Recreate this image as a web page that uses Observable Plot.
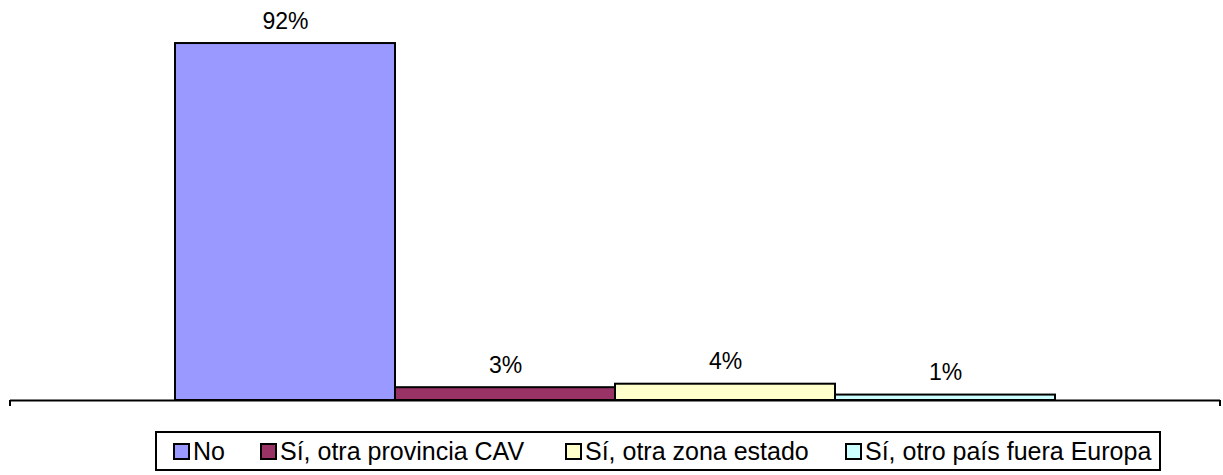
<!DOCTYPE html>
<html>
<head>
<meta charset="utf-8">
<script src="https://cdn.jsdelivr.net/npm/d3@7"></script>
<script src="https://cdn.jsdelivr.net/npm/@observablehq/plot@0.6"></script>
<style>
  body { margin: 0; background: #fff; font-family: "Liberation Sans", Arial, sans-serif; }
  #wrap { position: relative; width: 1223px; height: 475px; }
  #legend { position: absolute; left: 155px; top: 431px; width: 1006px; height: 40px;
    border: 2px solid #000; box-sizing: border-box;
    font-size: 25px; color: #000; }
  .item { display: flex; align-items: center; position: absolute; top: 0; height: 36px; line-height: 1; }
  .sw { width: 13px; height: 13px; border: 2px solid #000; margin-right: 3px; }
</style>
</head>
<body>
<div id="wrap">
  <div id="chart"></div>
  <div id="legend"></div>
</div>
<script>
const categories = ["No", "Sí, otra provincia CAV", "Sí, otra zona estado", "Sí, otro país fuera Europa"];
const values = [92, 3.3, 4.2, 1.4];
const labels = ["92%", "3%", "4%", "1%"];
const colors = ["#9999FF", "#993366", "#FFFFCC", "#CCFFFF"];

const data = categories.map((c, i) => ({category: c, value: values[i], label: labels[i]}));

const W = 1223, H = 420, mL = 10, mR = 3, mT = 12, mB = 20;

const chart = Plot.plot({
  width: W, height: H,
  marginLeft: mL, marginRight: mR, marginTop: mT, marginBottom: mB,
  style: {fontFamily: "Liberation Sans, Arial, sans-serif", background: "white"},
  x: {domain: categories, paddingInner: 0, paddingOuter: 0.75, axis: null},
  y: {domain: [0, 100], axis: null},
  color: {domain: categories, range: colors},
  marks: [
    Plot.barY(data, {x: "category", y: "value", fill: "category", stroke: "#000", strokeWidth: 2}),
    Plot.ruleY([0], {stroke: "#000", strokeWidth: 2}),
    Plot.text(data, {x: "category", y: "value", text: "label", lineAnchor: "bottom", dy: -15, fontSize: 23, fill: "#000"})
  ]
});
document.getElementById("chart").appendChild(chart);

// end ticks of the category axis
const ys = chart.scale("y");
const y0 = ys.apply(0);
const svg = d3.select(chart);
[mL, W - mR].forEach(x => {
  svg.append("line").attr("x1", x).attr("x2", x).attr("y1", y0).attr("y2", y0 + 6)
    .attr("stroke", "#000").attr("stroke-width", 2);
});

// legend
const legend = document.getElementById("legend");
const offsets = [16, 103, 408, 688];
categories.forEach((c, i) => {
  const it = document.createElement("div");
  it.className = "item";
  it.style.left = offsets[i] + "px";
  const sw = document.createElement("span");
  sw.className = "sw";
  sw.style.background = colors[i];
  const t = document.createElement("span");
  t.textContent = c;
  it.appendChild(sw); it.appendChild(t);
  legend.appendChild(it);
});
</script>
</body>
</html>
